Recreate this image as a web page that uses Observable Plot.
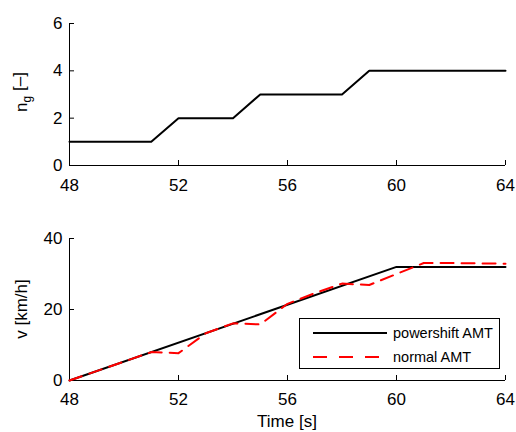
<!DOCTYPE html>
<html><head><meta charset="utf-8">
<script src="https://cdn.jsdelivr.net/npm/d3@7"></script>
<script src="https://cdn.jsdelivr.net/npm/@observablehq/plot@0.6"></script>
<style>
body{margin:0;background:#fff;font-family:"Liberation Sans",Arial,sans-serif;}
#wrap{position:relative;width:516px;height:432px;overflow:hidden;}
#wrap svg{display:block}
#legend{position:absolute;left:299px;top:318px;}
</style></head>
<body><div id="wrap"></div>
<script>
// ---- data ----
const xTicks = [48, 52, 56, 60, 64];
const gearTicks = [0, 2, 4, 6];
const speedTicks = [0, 20, 40];

const gearTime = [48, 51, 52, 54, 55, 58, 59, 64];
const gear     = [1, 1, 2, 2, 3, 3, 4, 4];

const psTime  = [48, 60, 64];
const psSpeed = [0, 32, 32];

const amtTime  = [48, 51, 52, 53, 54, 55, 56, 57, 58, 59, 60, 61, 62, 64];
const amtSpeed = [0, 8, 7.7, 13.3, 16.1, 15.8, 21.6, 24.6, 27.3, 26.9, 30, 33.1, 33.1, 32.9];

const seriesNames = ["powershift AMT", "normal AMT"];
const seriesColors = ["#000000", "#ff0000"];

const gearData = gearTime.map((t, i) => ({t, v: gear[i]}));
const psData = psTime.map((t, i) => ({t, v: psSpeed[i]}));
const amtData = amtTime.map((t, i) => ({t, v: amtSpeed[i]}));

const style = {fontFamily: '"Liberation Sans", Arial, sans-serif', fontSize: "17px", color: "#000", background: "transparent", overflow: "visible"};
const W = 516;

const topPlot = Plot.plot({
  width: W, height: 210,
  marginLeft: 69, marginRight: 11, marginTop: 23, marginBottom: 45,
  x: {domain: [48, 64]},
  y: {domain: [0, 6]},
  style,
  marks: [
    Plot.ruleY([0], {stroke: "#000", strokeWidth: 1}),
    Plot.ruleX([48], {stroke: "#000", strokeWidth: 1}),
    Plot.axisX(xTicks, {tickSize: -5, tickPadding: 18, label: null, fontSize: 17, stroke: "#000"}),
    Plot.axisY(gearTicks, {tickSize: -5, tickPadding: 12, label: null, fontSize: 17, stroke: "#000"}),
    Plot.line(gearData, {x: "t", y: "v", stroke: "#000", strokeWidth: 2})
  ]
});

const botPlot = Plot.plot({
  width: W, height: 222,
  marginLeft: 69, marginRight: 11, marginTop: 28, marginBottom: 52,
  x: {domain: [48, 64]},
  y: {domain: [0, 40]},
  style,
  marks: [
    Plot.ruleY([0], {stroke: "#000", strokeWidth: 1}),
    Plot.ruleX([48], {stroke: "#000", strokeWidth: 1}),
    Plot.axisX(xTicks, {tickSize: -5, tickPadding: 17, label: null, fontSize: 17, stroke: "#000"}),
    Plot.axisY(speedTicks, {tickSize: -5, tickPadding: 12, label: null, fontSize: 17, stroke: "#000"}),
    Plot.line(psData, {x: "t", y: "v", stroke: seriesColors[0], strokeWidth: 2}),
    Plot.line(amtData, {x: "t", y: "v", stroke: seriesColors[1], strokeWidth: 2, strokeDasharray: "13,8"})
  ]
});

const wrap = document.getElementById("wrap");
wrap.appendChild(topPlot);
wrap.appendChild(botPlot);

// axis titles
const ts = d3.select(topPlot);
const t1 = ts.append("text")
  .attr("transform", "translate(27,92) rotate(-90)")
  .attr("text-anchor", "middle")
  .attr("font-size", 17).attr("fill", "#000");
t1.append("tspan").text("n");
t1.append("tspan").attr("font-size", 12).attr("dy", "0.35em").text("g");
t1.append("tspan").attr("dy", "-0.35em").text(" [–]");

const bs = d3.select(botPlot);
bs.append("text")
  .attr("transform", "translate(27,99) rotate(-90)")
  .attr("text-anchor", "middle")
  .attr("font-size", 17).attr("fill", "#000")
  .text("v [km/h]");
bs.append("text")
  .attr("x", 287).attr("y", 217)
  .attr("text-anchor", "middle")
  .attr("font-size", 17).attr("fill", "#000")
  .text("Time [s]");

// legend
const leg = d3.select(wrap).append("svg").attr("id", "legend")
  .attr("width", 202).attr("height", 52);
leg.append("rect").attr("x", 0.5).attr("y", 0.5).attr("width", 200).attr("height", 50)
  .attr("fill", "#fff").attr("stroke", "#000");
seriesNames.forEach((name, i) => {
  const y = 15 + i * 24;
  leg.append("line").attr("x1", 14).attr("x2", 88).attr("y1", y).attr("y2", y)
    .attr("stroke", seriesColors[i]).attr("stroke-width", 2)
    .attr("stroke-dasharray", i === 1 ? "14,12" : null);
  leg.append("text").attr("x", 94).attr("y", y + 5)
    .attr("font-size", 14.5).attr("fill", "#000")
    .attr("font-family", '"Liberation Sans", Arial, sans-serif')
    .text(name);
});
</script>
</body></html>
